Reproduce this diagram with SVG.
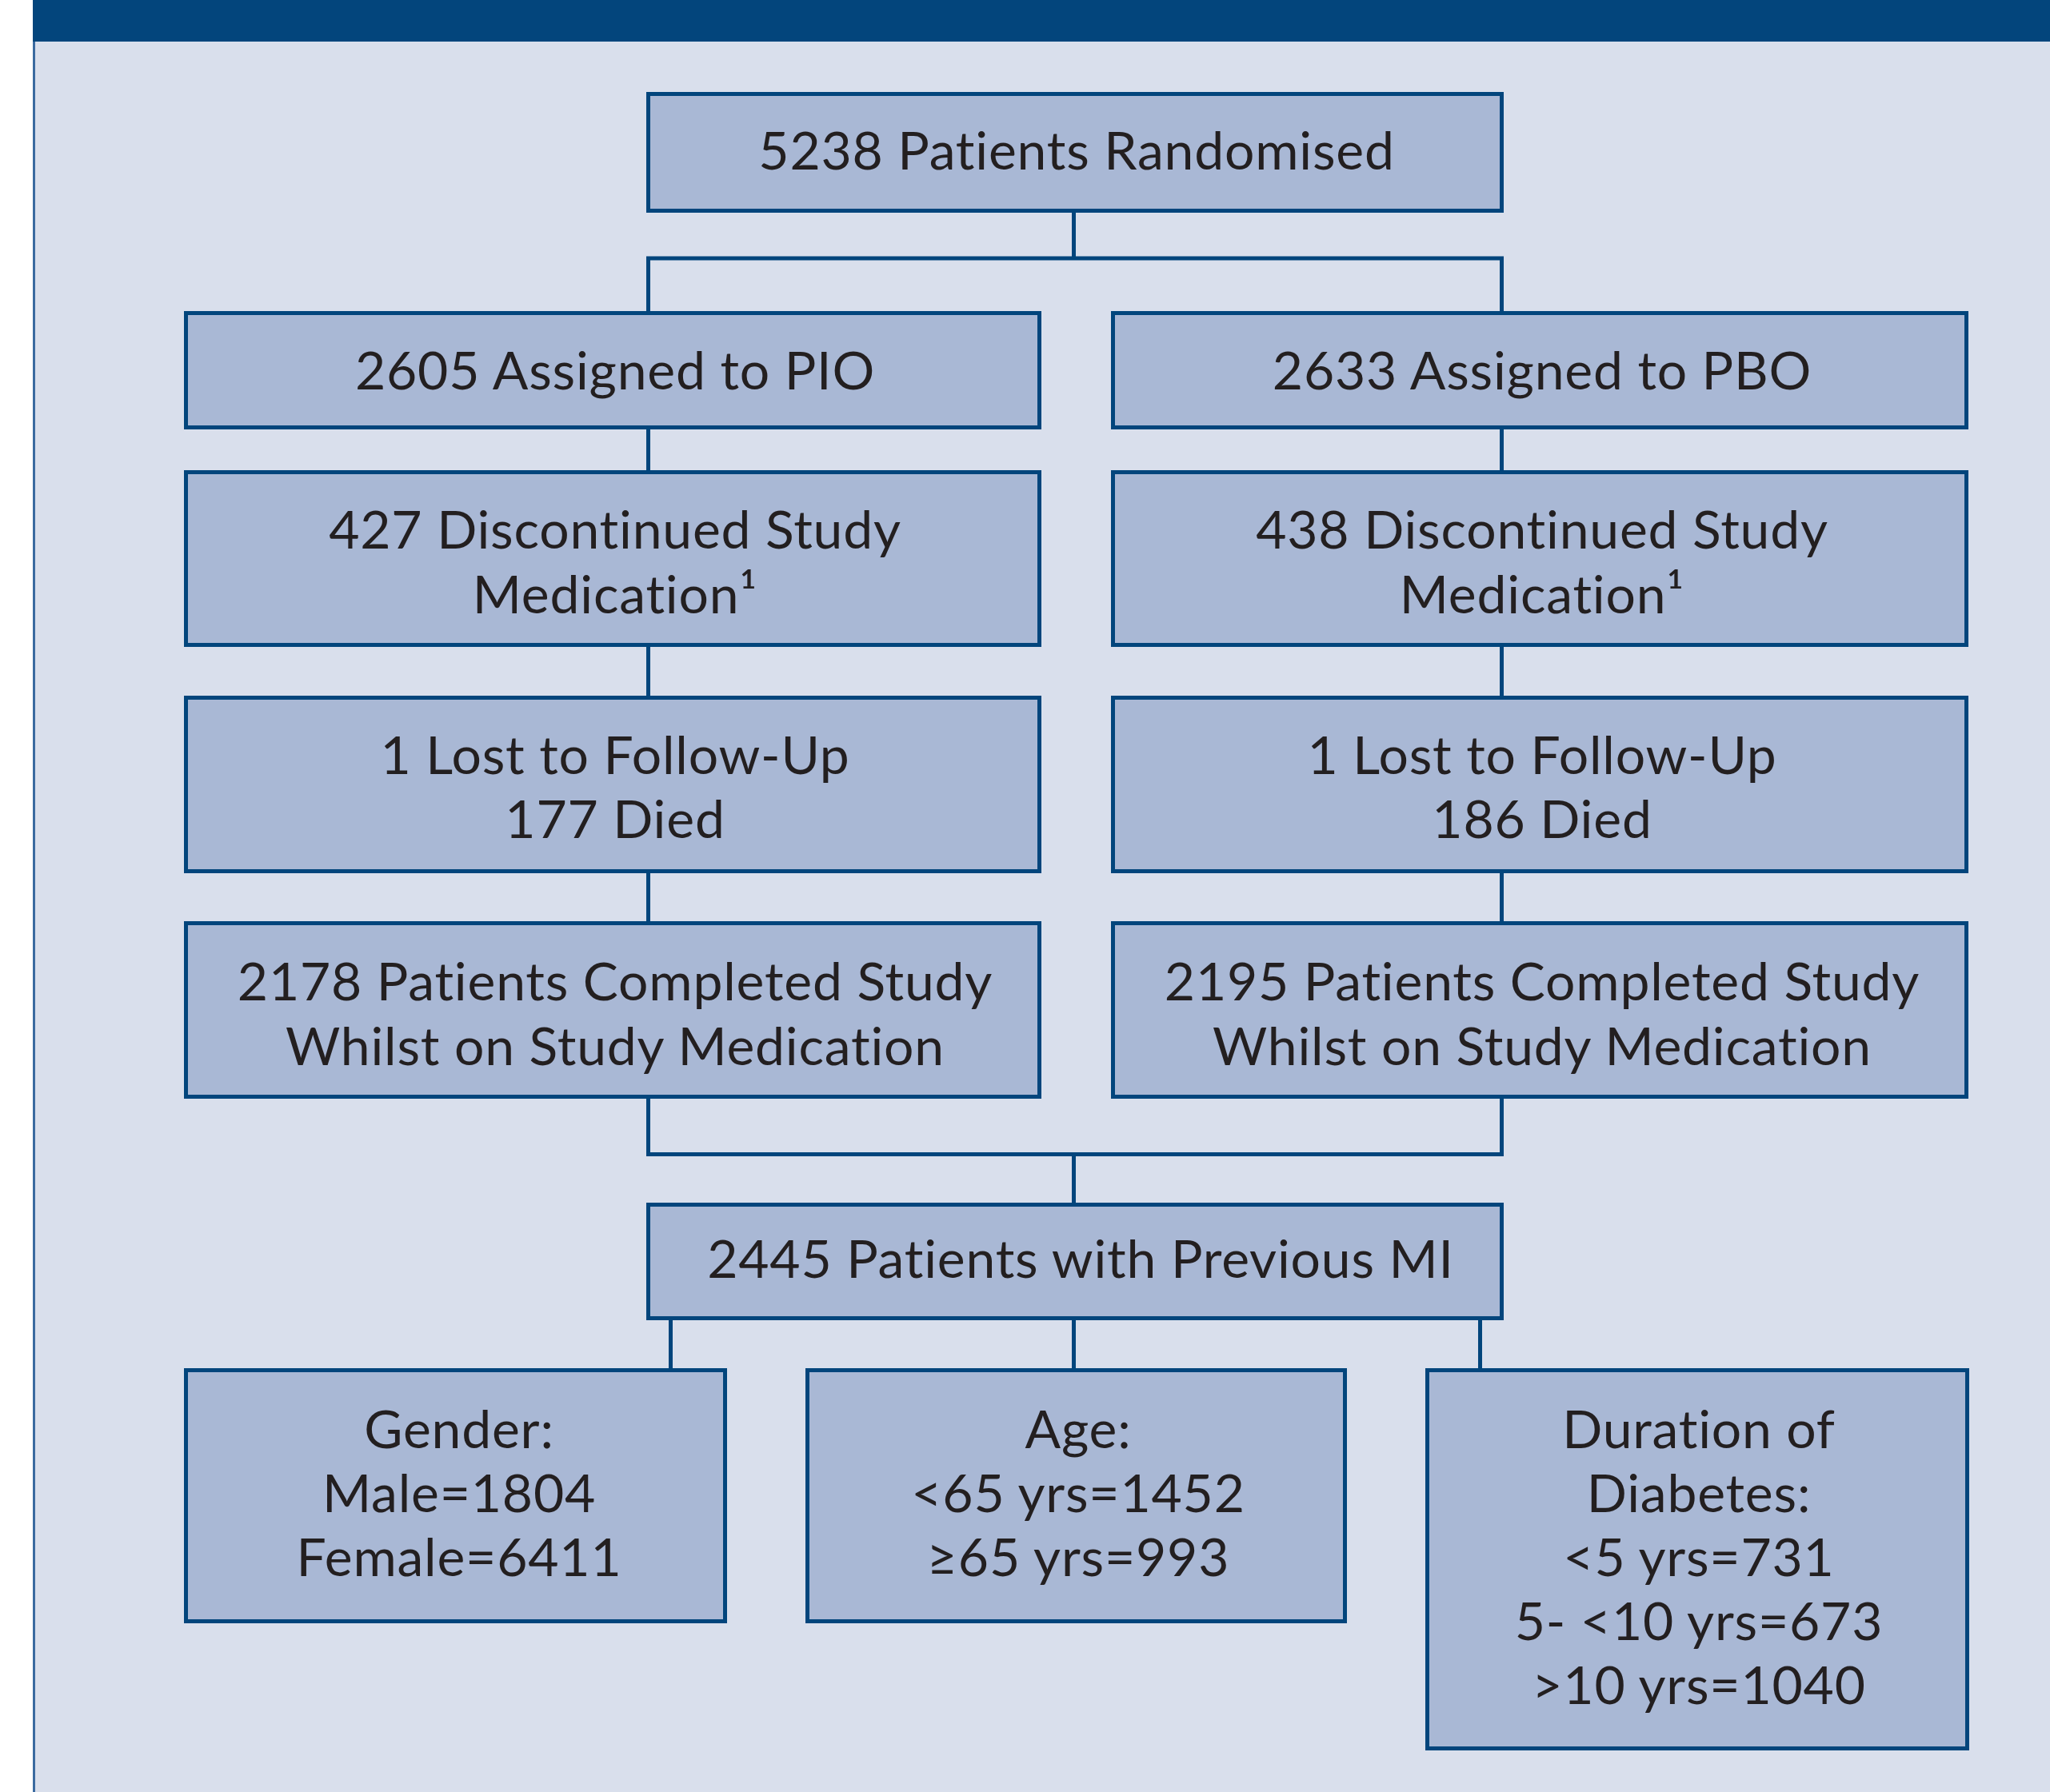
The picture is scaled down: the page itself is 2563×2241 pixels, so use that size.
<svg xmlns="http://www.w3.org/2000/svg" width="2563" height="2241" viewBox="0 0 2563 2241">
<style>
.bg{fill:#d9dfec}
.hdr{fill:#03457c}
.box{fill:#a9b8d5;stroke:#02457c;stroke-width:5}
.con{fill:none;stroke:#02457c;stroke-width:5;stroke-linejoin:miter;stroke-linecap:square}
text{font-family:Lato,"Noto Sans","Liberation Sans",sans-serif;font-size:66px;letter-spacing:0.8px;fill:#231f20;text-anchor:middle}
</style>
<rect x="0" y="0" width="2563" height="2241" fill="#ffffff"/>
<rect class="bg" x="41" y="52" width="2522" height="2189"/>
<rect class="hdr" x="41" y="0" width="2522" height="52"/>
<line x1="42.5" y1="52" x2="42.5" y2="2241" stroke="#3a6aa0" stroke-width="3"/>
<g id="connectors">
<path class="con" d="M1342.5 263.5 V323 M810.5 391.5 V323 H1877.5 V391.5"/>
<path class="con" d="M810.5 533.5 V590.5 M810.5 806.5 V872.5 M810.5 1089.5 V1154.5"/>
<path class="con" d="M1877.5 533.5 V590.5 M1877.5 806.5 V872.5 M1877.5 1089.5 V1154.5"/>
<path class="con" d="M810.5 1371.5 V1443.5 H1877.5 V1371.5 M1342.5 1443.5 V1506.5"/>
<path class="con" d="M838.5 1648.5 V1713.5 M1342.5 1648.5 V1713.5 M1850.5 1648.5 V1713.5"/>
</g>
<g id="randomised"><rect class="box" x="810.5" y="117.5" width="1067" height="146"/><text x="1346" y="212">5238 Patients Randomised</text></g>
<g id="pio"><rect class="box" x="232.5" y="391.5" width="1067" height="143"/><text x="769" y="487">2605 Assigned to PIO</text></g>
<g id="pbo"><rect class="box" x="1391.5" y="391.5" width="1067" height="143"/><text x="1928" y="487">2633 Assigned to PBO</text></g>
<g id="pio-disc"><rect class="box" x="232.5" y="590.5" width="1067" height="216"/><text x="769" y="686">427 Discontinued Study</text><text x="769" y="767">Medication¹</text></g>
<g id="pbo-disc"><rect class="box" x="1391.5" y="590.5" width="1067" height="216"/><text x="1928" y="686">438 Discontinued Study</text><text x="1928" y="767">Medication¹</text></g>
<g id="pio-lost"><rect class="box" x="232.5" y="872.5" width="1067" height="217"/><text x="769" y="968">1 Lost to Follow-Up</text><text x="769" y="1048">177 Died</text></g>
<g id="pbo-lost"><rect class="box" x="1391.5" y="872.5" width="1067" height="217"/><text x="1928" y="968">1 Lost to Follow-Up</text><text x="1928" y="1048">186 Died</text></g>
<g id="pio-comp"><rect class="box" x="232.5" y="1154.5" width="1067" height="217"/><text x="769" y="1251">2178 Patients Completed Study</text><text x="769" y="1332">Whilst on Study Medication</text></g>
<g id="pbo-comp"><rect class="box" x="1391.5" y="1154.5" width="1067" height="217"/><text x="1928" y="1251">2195 Patients Completed Study</text><text x="1928" y="1332">Whilst on Study Medication</text></g>
<g id="prev-mi"><rect class="box" x="810.5" y="1506.5" width="1067" height="142"/><text x="1351" y="1598">2445 Patients with Previous MI</text></g>
<g id="gender"><rect class="box" x="232.5" y="1713.5" width="674" height="314"/><text x="574" y="1811">Gender:</text><text x="574" y="1891">Male=1804</text><text x="574" y="1971">Female=6411</text></g>
<g id="age"><rect class="box" x="1009.5" y="1713.5" width="672" height="314"/><text x="1348" y="1811">Age:</text><text x="1348" y="1891">&lt;65 yrs=1452</text><text x="1348" y="1971">≥65 yrs=993</text></g>
<g id="duration"><rect class="box" x="1784.5" y="1713.5" width="675" height="473"/><text x="2124" y="1811">Duration of</text><text x="2124" y="1891">Diabetes:</text><text x="2124" y="1971">&lt;5 yrs=731</text><text x="2124" y="2051">5- &lt;10 yrs=673</text><text x="2124" y="2131">&gt;10 yrs=1040</text></g>
</svg>
